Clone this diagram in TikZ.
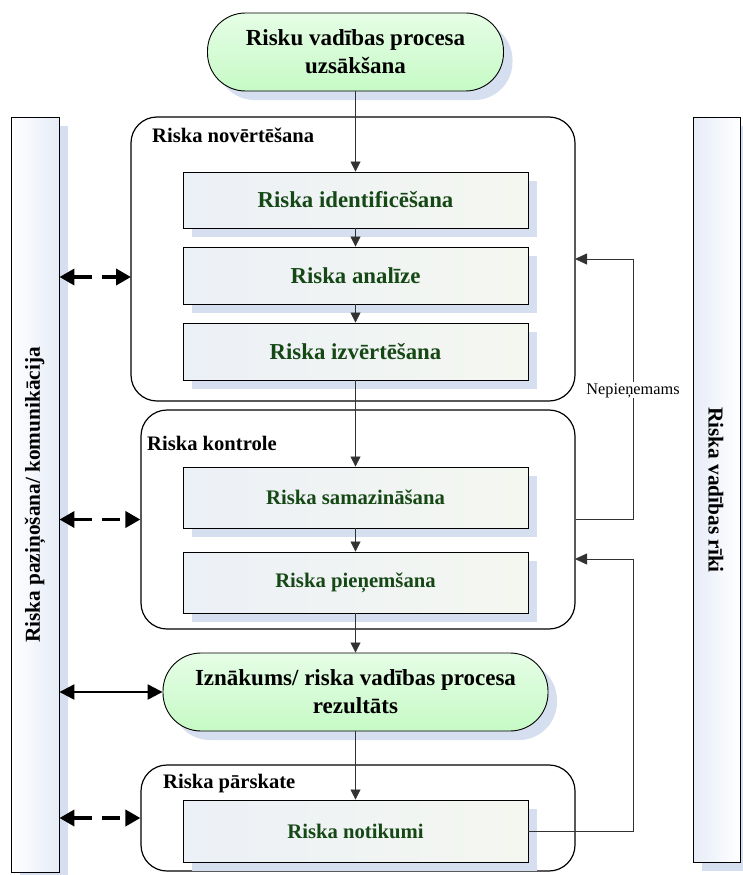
\documentclass[tikz,border=0pt]{standalone}
\usepackage{fontspec}
\setmainfont{Liberation Serif}
\usetikzlibrary{arrows.meta,shadows}
\definecolor{shadowblue}{RGB}{213,223,239}
\definecolor{termtop}{RGB}{230,253,230}
\definecolor{termbot}{RGB}{198,250,198}
\definecolor{boxleft}{RGB}{236,240,247}
\definecolor{boxright}{RGB}{244,247,240}
\definecolor{txtgreen}{RGB}{22,72,22}
\definecolor{linegray}{RGB}{50,50,50}
\definecolor{barblue}{RGB}{230,236,247}
\begin{document}
\begin{tikzpicture}[x=1pt,y=-1pt,
  sh/.style={drop shadow={shadow xshift=9pt,shadow yshift=-9pt,fill=shadowblue,opacity=1}},
  terminal/.style={draw=black, line width=0.9pt, rounded corners=38pt, top color=termtop, bottom color=termbot, sh, align=center, font=\fontsize{23}{28}\selectfont\bfseries, inner sep=0pt, minimum height=78pt},
  stepbox/.style={draw=black, line width=0.9pt, left color=boxleft, right color=boxright, sh, minimum width=345pt, text=txtgreen, inner sep=0pt},
  bigtxt/.style={font=\fontsize{22.8}{26}\selectfont\bfseries},
  smalltxt/.style={font=\fontsize{20.7}{24}\selectfont\bfseries},
  group/.style={draw=black, line width=1.2pt, rounded corners=26pt, inner sep=0pt},
  grouplabel/.style={anchor=base west, inner sep=0pt, font=\fontsize{20.6}{24}\selectfont\bfseries},
  sidebar/.style={draw=black, line width=0.9pt, inner sep=0pt, sh},
  sidetxt/.style={inner sep=0pt, font=\fontsize{21.3}{24}\selectfont\bfseries},
  flow/.style={draw=linegray, line width=0.8pt, -{Triangle[length=10pt,width=10pt]}},
  fb/.style={draw=linegray, line width=0.8pt, -{Triangle[length=12pt,width=11pt]}},
  dasharrow/.style={line width=3.6pt, dash pattern=on 18pt off 10pt, {Triangle[length=15pt,width=16pt]}-{Triangle[length=15pt,width=16pt]}},
  solidarrow/.style={line width=2.4pt, {Triangle[length=15pt,width=15pt]}-{Triangle[length=15pt,width=15pt]}}
]
\useasboundingbox (0,0) rectangle (743,875);
\fill[white] (0,0) rectangle (743,875);

% side bars
\node[sidebar, left color=white, right color=barblue, minimum width=48pt, minimum height=755pt] (leftbar) at (35,494.5) {};
\node[sidetxt, rotate=90] (lefttxt) at (35,495) {Riska paziņošana/ komunikācija};
\node[sidebar, left color=barblue, right color=white, minimum width=47pt, minimum height=745pt] (rightbar) at (716.5,489.5) {};
\node[sidetxt, rotate=-90] (righttxt) at (716,490) {Riska vadības rīki};

% groups
\node[group, minimum width=444pt, minimum height=284pt] (grpA) at (353,259) {};
\node[grouplabel] (lblA) at (152,142) {Riska novērtēšana};
\node[group, minimum width=434pt, minimum height=219pt] (grpB) at (358,519.5) {};
\node[grouplabel] (lblB) at (147,450) {Riska kontrole};
\node[group, minimum width=434pt, minimum height=106pt] (grpC) at (358,818) {};
\node[grouplabel] (lblC) at (163,788) {Riska pārskate};

% terminals
\node[terminal, minimum width=296pt] (start) at (355.5,52) {Risku vadības procesa\\uzsākšana};
\node[terminal, minimum width=385pt] (izn) at (355.5,692) {Iznākums/ riska vadības procesa\\rezultāts};

% step boxes
\node[stepbox, bigtxt, minimum height=56pt] (ident) at (355.5,200) {Riska identificēšana};
\node[stepbox, bigtxt, minimum height=57pt] (anal) at (355.5,275.5) {Riska analīze};
\node[stepbox, bigtxt, minimum height=57pt] (izv) at (355.5,351.5) {Riska izvērtēšana};
\node[stepbox, smalltxt, minimum height=61pt] (samaz) at (355.5,497.5) {Riska samazināšana};
\node[stepbox, smalltxt, minimum height=61pt] (pien) at (355.5,582.5) {Riska pieņemšana};
\node[stepbox, smalltxt, minimum height=62pt] (notik) at (355.5,831) {Riska notikumi};

% main flow
\draw[flow] (start) -- (ident);
\draw[flow] (ident) -- (anal);
\draw[flow] (anal) -- (izv);
\draw[flow] (izv) -- (samaz);
\draw[flow] (samaz) -- (pien);
\draw[flow] (pien) -- (izn);
\draw[flow] (izn) -- (notik);

% feedback loops
\coordinate (fbA) at (575,259);
\coordinate (fbB) at (575,559);
\draw[fb] (grpB.east) -- (633,519.5) |- (fbA);
\draw[fb] (notik.east) -- (633,831) |- (fbB);
\node[fill=white, inner sep=1pt, anchor=base, font=\fontsize{16.3}{18}\selectfont] (nep) at (633,394) {Nepieņemams};

% communication arrows
\coordinate (cA) at (131,277);
\draw[dasharrow] (leftbar.east |- cA) -- (cA);
\draw[dasharrow] (leftbar.east |- grpB.west) -- (grpB.west);
\draw[solidarrow] (leftbar.east |- izn.west) -- (izn.west);
\draw[dasharrow] (leftbar.east |- grpC.west) -- (grpC.west);
\end{tikzpicture}
\end{document}
